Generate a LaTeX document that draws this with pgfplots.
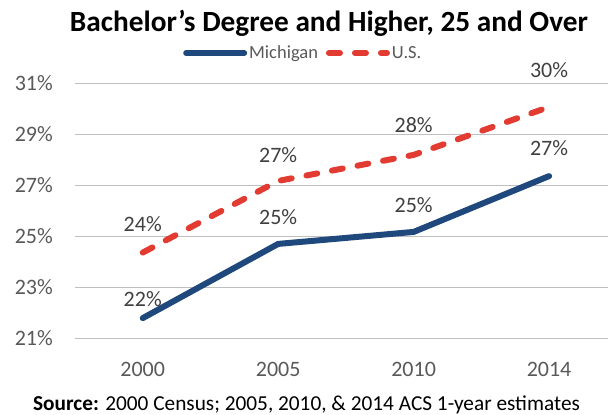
\documentclass[border=0pt]{standalone}
\usepackage{fontspec}
\setmainfont{Carlito}
\usepackage{pgfplots}
\pgfplotsset{compat=1.18}
\usepackage{pgfplotstable}
\definecolor{mich}{HTML}{1F497D}
\definecolor{usred}{HTML}{E23C32}
\definecolor{gridc}{HTML}{BFBFBF}
\definecolor{tickc}{HTML}{595959}
\definecolor{labc}{HTML}{404040}

\pgfplotstableread{
x y lab off
0 21.78 22\% 19
1 24.69 25\% 27
2 25.16 25\% 27
3 27.35 27\% 28
}\michtab
\pgfplotstableread{
x y lab off
0 24.35 24\% 28
1 27.16 27\% 26
2 28.18 28\% 30
3 30.06 30\% 37
}\ustab

\begin{document}
\begin{tikzpicture}
\useasboundingbox (0,0) rectangle (608bp,-415bp);
\begin{axis}[
  at={(75bp,-338bp)}, anchor=south west,
  scale only axis, width=533bp, height=255bp,
  xmin=-0.5, xmax=3.435, ymin=21, ymax=31,
  xtick={0,1,2,3}, xticklabels={2000,2005,2010,2014},
  ytick={21,23,25,27,29,31},
  yticklabels={21\%,23\%,25\%,27\%,29\%,31\%},
  axis line style={draw=none},
  major tick length=0pt,
  ymajorgrids, grid style={gridc, line width=1bp},
  ticklabel style={font=\fontsize{22bp}{26bp}\selectfont, text=tickc, inner sep=0pt},
  yticklabel style={anchor=east, xshift=-22bp},
  xticklabel style={anchor=center, yshift=-31bp},
  clip=false,
  legend columns=2,
  legend image code/.code={\draw[#1] (0bp,0bp) -- (58bp,0bp);},
  legend style={at={(0.2026,1.1176)}, anchor=west, draw=none, fill=none,
    inner sep=0pt, font=\fontsize{18.5bp}{22bp}\selectfont, text=tickc,
    /tikz/every even column/.append style={column sep=6bp}},
]
\addplot[mich, line width=6bp, line join=round, line cap=round,
  point meta=explicit symbolic, nodes near coords,
  nodes near coords style={font=\fontsize{22bp}{26bp}\selectfont, text=labc, inner sep=0pt, anchor=center},
  visualization depends on={\thisrow{off}\as\myoff},
  every node near coord/.append style={yshift=\myoff bp}]
  table[x=x, y=y, meta=lab] {\michtab};
\addlegendentry{Michigan}
\addplot[usred, line width=6bp, line cap=round, dash pattern=on 11bp off 15bp,
  point meta=explicit symbolic, nodes near coords,
  nodes near coords style={font=\fontsize{22bp}{26bp}\selectfont, text=labc, inner sep=0pt, anchor=center},
  visualization depends on={\thisrow{off}\as\myoff},
  every node near coord/.append style={yshift=\myoff bp}]
  table[x=x, y=y, meta=lab] {\ustab};
\addlegendentry{U.S.}
\end{axis}
\node[anchor=base] at (329bp,-31bp) {\bfseries\fontsize{29.3bp}{33bp}\selectfont Bachelor’s Degree and Higher, 25 and Over};
\node[anchor=base, inner sep=0pt] at (306.5bp,-410.5bp) {\fontsize{21.3bp}{24bp}\selectfont\textbf{Source:} 2000 Census; 2005, 2010, \& 2014 ACS 1-year estimates};
\end{tikzpicture}
\end{document}
